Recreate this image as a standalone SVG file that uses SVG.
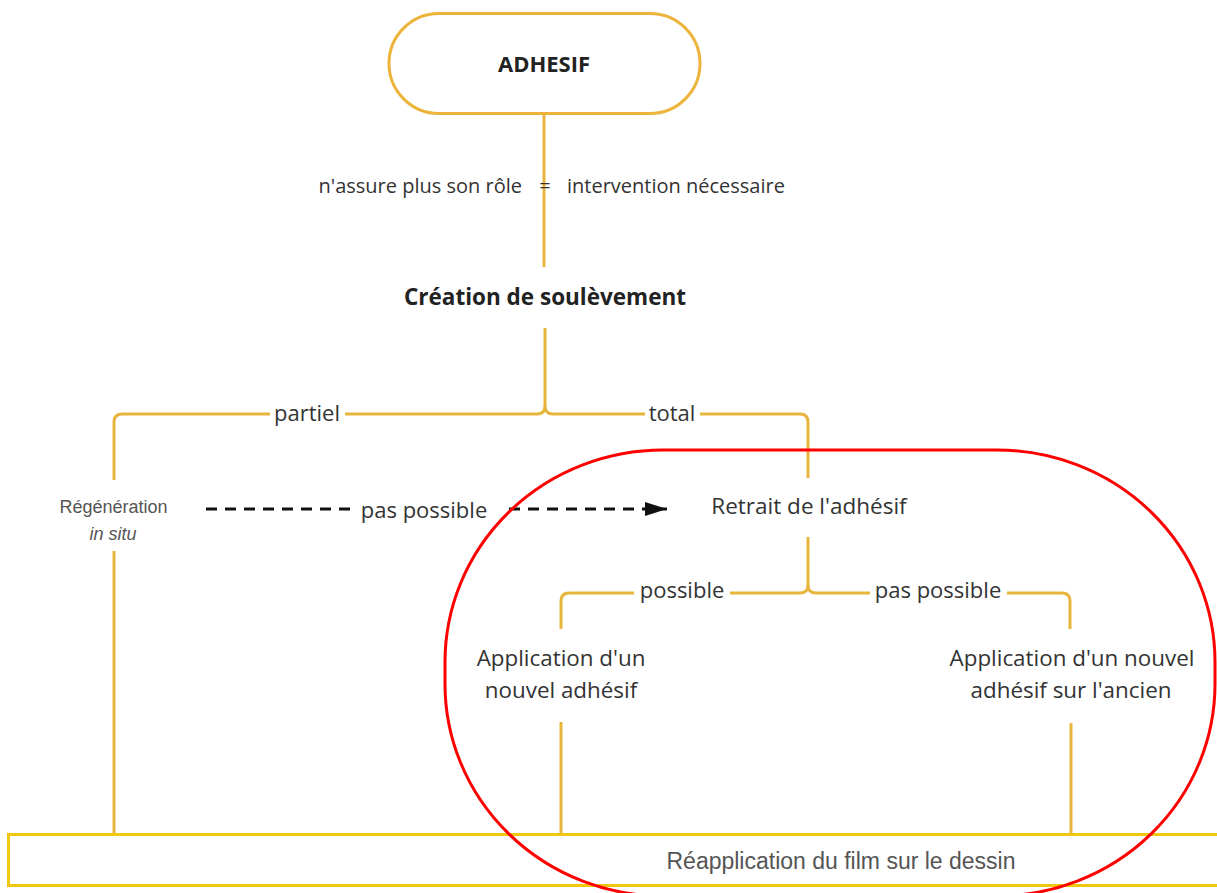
<svg xmlns="http://www.w3.org/2000/svg" width="1217" height="893" viewBox="0 0 1217 893">
<style>
.conn{fill:none;stroke:#e8b53c;stroke-width:3;stroke-linecap:butt}
.dash{fill:none;stroke:#111;stroke-width:3;stroke-dasharray:11 8}
.os{font-family:"Open Sans","DejaVu Sans",sans-serif;fill:#333}
.osb{font-family:"Open Sans","DejaVu Sans",sans-serif;font-weight:bold;fill:#222}
.ar{font-family:"Liberation Sans",Arial,sans-serif;fill:#555}
.lbl{font-size:22px;text-anchor:middle}
.bg{fill:#fff}
</style>
<defs>
<marker id="arrow" viewBox="0 0 22 14" refX="22" refY="7" markerWidth="22" markerHeight="14" markerUnits="userSpaceOnUse" orient="auto">
<path d="M0,0 L22,7 L0,14 Z" fill="#111"/>
</marker>
</defs>
<rect width="1217" height="893" fill="#fff"/>
<g id="connectors">
<path class="conn" d="M544,114 V267"/>
<path class="conn" d="M545,328 V406 Q545,414 537,414 H122 Q114,414 114,422 V480"/>
<path class="conn" d="M545,406 Q545,414 553,414 H800 Q808,414 808,422 V478"/>
<path class="conn" d="M114,551 V835"/>
<path class="conn" d="M808,537 V585 Q808,593 800,593 H569 Q561,593 561,601 V629"/>
<path class="conn" d="M808,585 Q808,593 816,593 H1062 Q1070,593 1070,601 V629"/>
<path class="conn" d="M561,722 V835"/>
<path class="conn" d="M1071,723 V835"/>
<rect class="bg" x="270" y="400" width="75" height="28"/>
<rect class="bg" x="645" y="400" width="55" height="28"/>
<rect class="bg" x="634" y="580" width="96" height="28"/>
<rect class="bg" x="870" y="580" width="137" height="28"/>
<text class="os lbl" x="307" y="421">partiel</text>
<text class="os lbl" x="672" y="421">total</text>
<text class="os lbl" x="682" y="598">possible</text>
<text class="os lbl" x="938" y="598">pas possible</text>
<text class="os" x="522" y="193" font-size="20" text-anchor="end">n'assure plus son rôle</text>
<text class="os" x="545" y="193" font-size="20" text-anchor="middle">=</text>
<text class="os" x="567" y="193" font-size="20">intervention nécessaire</text>
<path class="dash" d="M206,509 H358"/>
<path class="dash" d="M509,509 H667" marker-end="url(#arrow)"/>
<text class="os lbl" x="424" y="518">pas possible</text>
</g>
<g id="adhesif">
<rect x="389" y="13.5" width="311" height="100" rx="50" ry="50" fill="#fff" stroke="#ecb43a" stroke-width="3"/>
<text class="osb" x="544" y="72" font-size="22" text-anchor="middle">ADHESIF</text>
</g>
<g id="creation">
<text class="osb" x="545" y="305" font-size="22.5" text-anchor="middle">Création de soulèvement</text>
</g>
<g id="regeneration">
<text class="ar" x="113.5" y="513" font-size="18" text-anchor="middle">Régénération</text>
<text class="ar" x="113" y="540" font-size="18" font-style="italic" text-anchor="middle">in situ</text>
</g>
<g id="retrait">
<text class="os" x="809" y="514" font-size="22.5" text-anchor="middle">Retrait de l'adhésif</text>
</g>
<g id="application1">
<text class="os" x="561" y="666" font-size="22.4" text-anchor="middle">Application d'un</text>
<text class="os" x="561" y="698" font-size="22.4" text-anchor="middle">nouvel adhésif</text>
</g>
<g id="application2">
<text class="os" x="1072" y="666" font-size="22.4" text-anchor="middle">Application d'un nouvel</text>
<text class="os" x="1071" y="698" font-size="22.4" text-anchor="middle">adhésif sur l'ancien</text>
</g>
<g id="reapplication">
<rect x="8.5" y="834.5" width="1220" height="51" fill="none" stroke="#f2c80f" stroke-width="3"/>
<text class="ar" x="841" y="869" font-size="23" text-anchor="middle" fill="#444">Réapplication du film sur le dessin</text>
</g>
<rect id="highlight" x="445" y="450" width="770" height="446" rx="218" ry="212" fill="none" stroke="#ff0000" stroke-width="3"/>
</svg>
